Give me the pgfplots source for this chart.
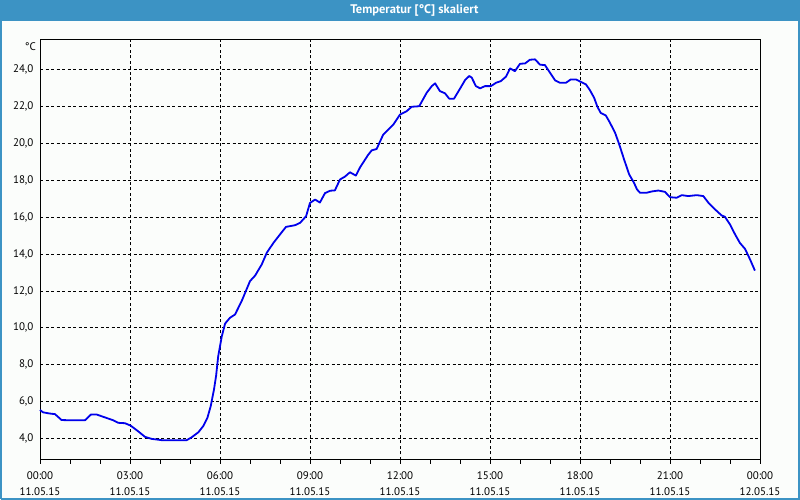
\documentclass[border=0pt]{standalone}
\usepackage{fontspec}
\setmainfont{PT Sans}
\usepackage{pgfplots}
\pgfplotsset{compat=1.18}

\definecolor{barblue}{RGB}{60,147,196}
\definecolor{paper}{RGB}{251,253,251}
\definecolor{curve}{RGB}{0,0,235}

\begin{document}
\begin{tikzpicture}
\useasboundingbox (0,0) rectangle (800pt,500pt);
\fill[paper] (0,0) rectangle (800pt,500pt);
\fill[barblue] (0,479pt) rectangle (800pt,500pt);
\node[text=white, font=\bfseries\fontsize{12.5}{14}\selectfont] at (414.5pt,489.5pt) {Temperatur [°C] skaliert};
\draw[barblue, line width=2pt] (1pt,1pt) -- (1pt,479pt) (799pt,479pt) -- (799pt,1pt) -- (1pt,1pt);

\begin{axis}[
    at={(40pt,40pt)}, anchor=south west,
    scale only axis, width=720pt, height=420pt,
    xmin=0, xmax=24, ymin=2.835, ymax=25.6,
    xtick={0,3,...,24}, minor xtick={0,1,...,24},
    xticklabels={{00:00\\11.05.15},{03:00\\11.05.15},{06:00\\11.05.15},{09:00\\11.05.15},{12:00\\11.05.15},{15:00\\11.05.15},{18:00\\11.05.15},{21:00\\11.05.15},{00:00\\12.05.15}},
    ytick={4,6,...,24},
    yticklabel style={font=\fontsize{11}{13}\selectfont, xshift=1pt},
    /pgf/number format/.cd, fixed, fixed zerofill, precision=1, use comma, assume math mode=true,
    /pgfplots/.cd,
    xticklabel style={align=center, font=\fontsize{11}{16.5}\selectfont, yshift=-4pt},
    tick align=outside, xtick pos=bottom, ytick pos=left,
    major tick length=4pt, minor tick length=4pt,
    ytick style={draw=none},
    tick style={black, line width=0.8pt},
    grid=major,
    major grid style={black, line width=0.8pt, dash pattern=on 3pt off 2.5pt},
    axis line style={black, line width=1pt},
    clip=false,
]
\addplot[curve, line width=1.8pt, line join=round] coordinates {
(0.00,5.55) (0.10,5.42) (0.30,5.36) (0.50,5.32) (0.72,5.00) (1.00,4.99)
(1.50,4.99) (1.70,5.30) (1.89,5.30) (2.17,5.14) (2.44,4.99) (2.61,4.85)
(2.83,4.83) (3.02,4.70) (3.28,4.38) (3.50,4.09) (3.72,3.98) (4.06,3.91)
(4.89,3.91) (5.06,4.07) (5.28,4.34) (5.44,4.67) (5.58,5.12) (5.69,5.75)
(5.80,6.66) (5.87,7.40) (5.94,8.46) (6.06,9.54) (6.17,10.23) (6.33,10.54)
(6.50,10.72) (6.72,11.44) (7.00,12.53) (7.17,12.83) (7.39,13.43) (7.56,14.07)
(7.78,14.60) (8.00,15.06) (8.20,15.47) (8.50,15.56) (8.67,15.69) (8.87,16.05)
(9.00,16.77) (9.17,16.95) (9.33,16.79) (9.50,17.30) (9.67,17.43) (9.83,17.45)
(10.00,18.04) (10.17,18.20) (10.33,18.43) (10.53,18.25) (10.67,18.70) (10.94,19.38)
(11.06,19.62) (11.22,19.69) (11.44,20.47) (11.61,20.75) (11.78,21.02) (12.00,21.56)
(12.22,21.74) (12.39,21.98) (12.64,22.01) (12.89,22.74) (13.06,23.10) (13.17,23.25)
(13.33,22.83) (13.50,22.71) (13.64,22.42) (13.80,22.42) (14.00,22.96) (14.17,23.43)
(14.31,23.65) (14.39,23.56) (14.53,23.10) (14.67,22.98) (14.83,23.10) (15.03,23.10)
(15.20,23.28) (15.36,23.37) (15.53,23.61) (15.67,24.06) (15.83,23.91) (16.00,24.31)
(16.17,24.33) (16.33,24.53) (16.50,24.55) (16.67,24.26) (16.83,24.24) (17.00,23.83)
(17.17,23.41) (17.33,23.28) (17.53,23.28) (17.69,23.46) (17.87,23.46) (18.00,23.35)
(18.20,23.19) (18.33,22.88) (18.47,22.47) (18.58,21.98) (18.69,21.65) (18.86,21.51)
(19.00,21.11) (19.17,20.57) (19.31,19.93) (19.47,19.12) (19.64,18.31) (19.80,17.86)
(19.90,17.50) (20.00,17.32) (20.22,17.32) (20.39,17.39) (20.61,17.44) (20.83,17.37)
(21.00,17.08) (21.22,17.05) (21.39,17.19) (21.61,17.14) (21.89,17.19) (22.11,17.14)
(22.28,16.78) (22.50,16.42) (22.72,16.09) (22.83,16.02) (23.00,15.60) (23.17,15.06)
(23.33,14.60) (23.50,14.28) (23.67,13.70) (23.83,13.10)
};
\node[anchor=north east, font=\fontsize{11}{13}\selectfont, inner sep=0pt] at ([xshift=-4pt,yshift=-2pt]rel axis cs:0,1) {°C};
\end{axis}
\end{tikzpicture}
\end{document}
